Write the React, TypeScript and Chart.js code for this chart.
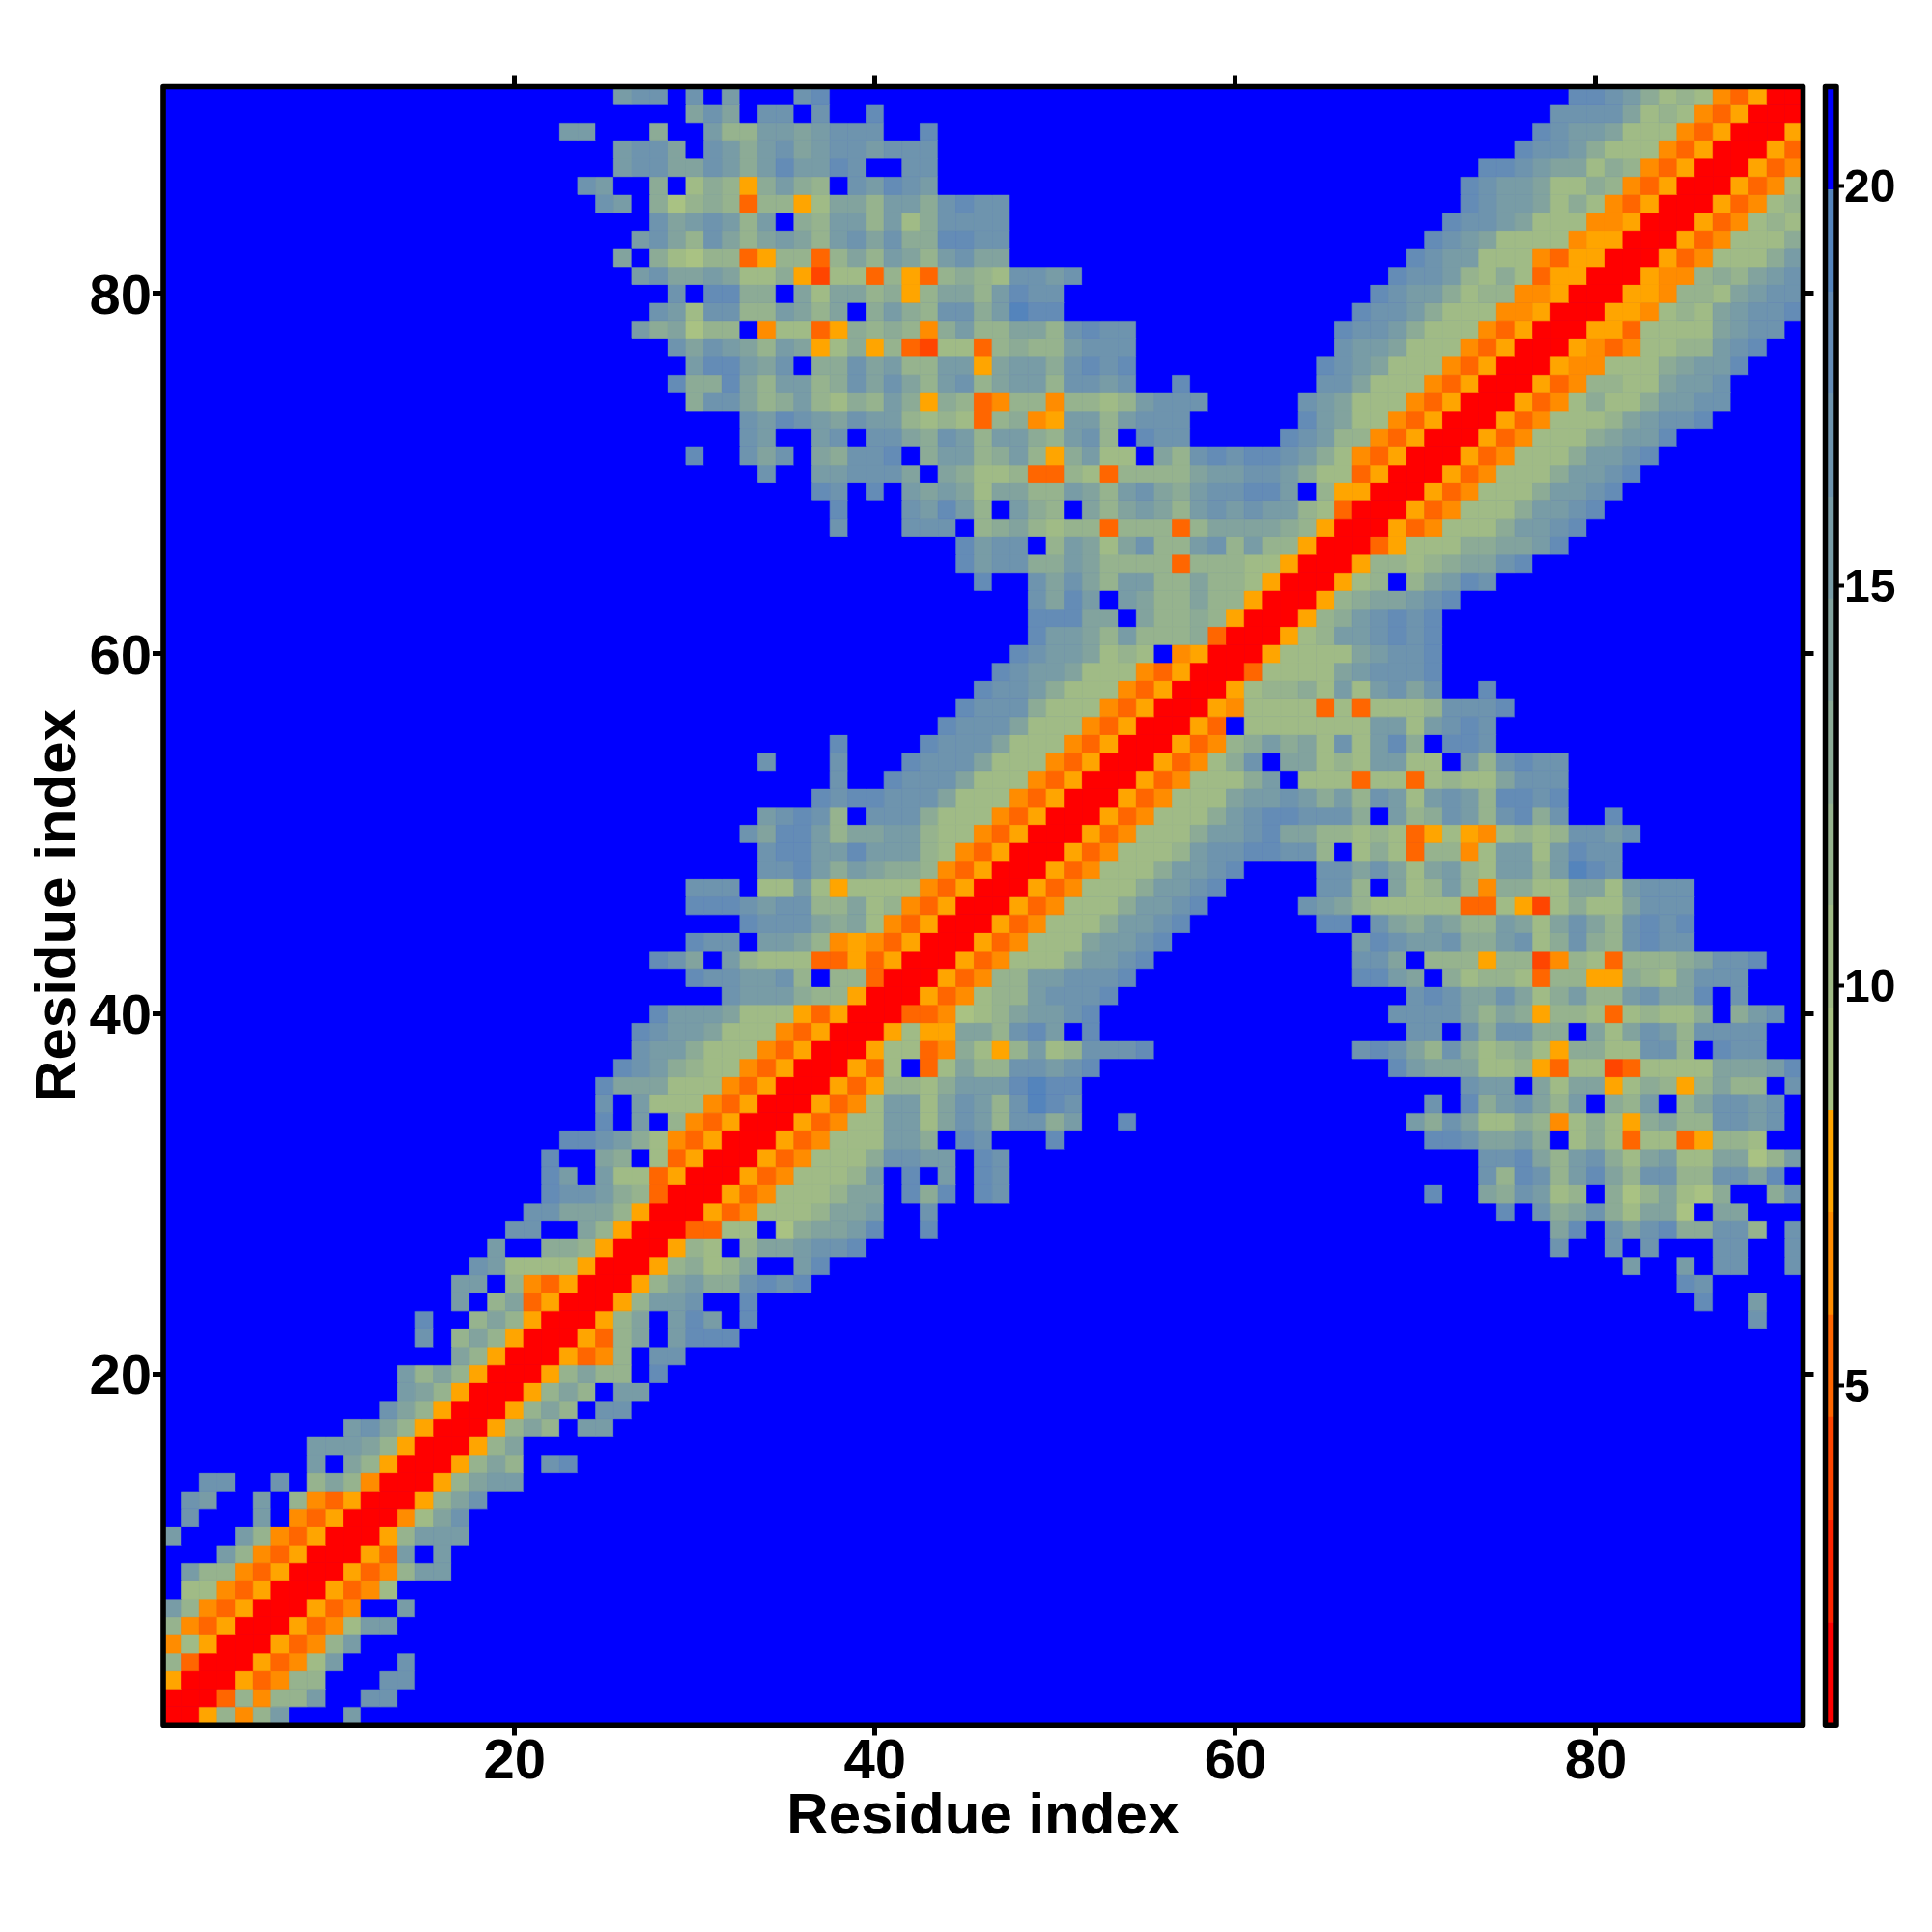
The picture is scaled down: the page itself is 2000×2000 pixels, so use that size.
import React, { useEffect, useRef } from "react";
import { Chart, registerables } from "chart.js";

Chart.register(...registerables);

const axisTitle = "Residue index";
const residueTicks = [20, 40, 60, 80];
const colorbarTicks = [5, 10, 15, 20];
const residueCount = 91;

// Band edges of the colour key (distance values)
const bandEdges = [0.755, 2.035, 3.315, 4.6, 5.88, 7.16, 8.44, 9.72, 11.0, 12.27, 13.55, 14.83, 16.1, 17.4, 18.67, 19.95, 21.24];
const bandColors = [
  "#ff0000", "#ff2400", "#ff4500", "#ff6600", "#ff8c00", "#ffa500",
  "#a9c283", "#a0bb86", "#96b38e", "#8cab96", "#82a39e", "#789ca6",
  "#6e94ae", "#648cb6", "#5484bc", "#0000ff",
];

// One entry per residue row (row 1 first). Each "start:codes" gives band codes (hex index into bandColors)
// from column "start"; cells that are not listed are band f.
const rows = [
  "1:005848b 11:b",
  "1:00038488b 12:cc",
  "1:500053488 13:cc",
  "1:830005347b 14:c",
  "1:4750005348b",
  "1:84350005347bb",
  "1:b8435000534ffb",
  "1:f774350005347",
  "1:fb884350005348bb",
  "4:b843500053bfb",
  "1:b 5:b843500058bbb",
  "2:c 6:b 8:43500047ac",
  "2:cb 6:b 8:843500058ac",
  "3:cc 7:c 9:8a8400058abb",
  "9:bfa8500058a8 22:cd",
  "9:bbba8500058a",
  "11:bca8500058a8 24:bb",
  "13:ca8500058a8fcc",
  "14:ba8500058a8fbb",
  "14:b8a8500058a88fd",
  "17:a850005348fcc",
  "15:c 17:8a85000538afbd 31:dd",
  "15:d 18:8a8500058afbd 31:bfd 89:c",
  "17:bf8a3500058bbc 31:ffd 86:d 89:b",
  "17:bbf843500058ab 31:99cdcd 85:dc",
  "18:cb77775000589 31:78affbd 82:b 85:b 87:cc 91:c",
  "19:bff998500058 31:7f8aabccd 78:c 81:cfc 87:cc 91:c",
  "20:ccffa850003 31:377f69aabd 43:d 78:adfcacd99cc8 91:c",
  "21:ccaaa85000 31:5347778aab 43:c 75:d 77:c9ac97aa6faa",
  "22:dccb98300 31:05347778aafd9dfdc 71:d 74:a9cb78f968a769ff9c",
  "22:dbfb77350 31:005347778bfdfbfdc 74:c8dc8bda8cc88ccad",
  "22:dffa9f735 31:0005347779ccbbfdc 74:ccda8bc97ab77aa68b",
  "23:ddcb9743 31:5000534777bb9fdc 50:d 71:ddcaab9f79737735887",
  "25:dfbf84 31:3500053477bb7acb8cc9b 54:d 70:b9ca7798479759a88ccbc",
  "25:cfb777 31:4350005347bb7acb8cedc 71:cfd9bca8bf98bf8accbc",
  "25:daaa77 31:74350005358879bbbdedd 73:cbbfa7aa579858a88fc",
  "26:dcb98 31:77435000537f37a88ccbcd 69:dbaaa7785377237777aaabd",
  "27:cbb9 31:777435000577349758b78cccd 67:cdca8c9789759977cc8fdcc",
  "27:dcbb 31:a7774350005755aa8cdbfd 70:ccfc9cc99fa7acb8cccc",
  "28:dbb 31:ba777535000334678abbcd 69:cccca8a95887378779f9bc",
  "31:fcbbb9885000534788bcccd 70:cdcaaca79b88bcaadfc",
  "30:d 31:ccbbc8f88300053488bbcccd 67:ddbaf9788738855987accc",
  "28:dca 31:fb8777335350005347779bbcd 67:ccaf888588248738889accd",
  "30:d 31:ccfbba845435000534777abbcd 67:bdcbbc99bc79c98cdcc",
  "33:dccca9a74350005347779bbcd 65:ddfca9ba88ba7aca8cdcd",
  "30:d 31:ddcbcc88a784350005347779bbcd 64:cba877777337527977accc",
  "30:c 31:ccf77b7577774350005347779bbcd 65:cc8fa78b849977aa7bccc",
  "34:ccdb9ba9984350005347779bbcd 65:ccaca7ab87bb8bedc",
  "34:cddbbdbbb874350005347778bccd 62:dcc8f79738847bb7bdcc",
  "33:caddb8aabb8774350005347779bbc 62:daa88787357547878ccbc",
  "34:bcdc8fccc97774350005347779bc 62:ddccc9fb89cb8cd9c 81:d",
  "37:dcddccca777435000534777ab 62:bcb9b8cb7bcb8ddcd",
  "38:c 41:dccca7774350005347779 62:bf77737737877accc",
  "34:c 38:c 42:dccca77743500053479c 62:faa787bb77fb8cdcc",
  "38:d 43:dccca77743500053489 62:b9a7c7bd9fddc",
  "44:dccca77743500053f7 62:777777bb7bcdc",
  "45:dccc9777435000547 62:7773737778cccd",
  "46:dccb977743500057 62:8897b7bcac 74:d",
  "47:dcbba7774350003 62:7777abcccd",
  "48:dcbba787f45000 62:57777abccd",
  "49:dbba8b888930 61:00578bbcdcd",
  "49:dddaafa88985 61:000589bcdcd",
  "49:cadbfba88a88 61:5000589aabcd",
  "46:d 49:caca8bb88a88 61:75000578f8abdc",
  "45:dbcc99ba88883888 61:775000588789aacd",
  "45:dbccf8ba7ac88bc8 61:b8850003577799aabd",
  "38:c 42:cccf89a8788388838aa 61:aa9850005347779bbcd",
  "38:d 42:cbdb8fb98fa8aba8bcb 61:cbb8730005347779bbcd",
  "37:dcfdfbaba7aa88ba8bca9bcc 61:ddbf8550005347779bbcd",
  "34:c 37:bbcccafa9778338738888abb 61:ccb977350005347779bbcd",
  "30:d 33:cacfa9ccdf9bb89b859b77fa8cdc 61:ddcb974350005347779bbcd",
  "33:cbffbcfcca9cb8bb98bc8fdcc 63:dcb884350005347779abbd",
  "33:cbdcbacbb878738945bb8bccc 64:dba774350005347778abccd",
  "30:9 31:cca89b8798b9598348848878bccc 64:cba77743500053479779bbcc",
  "29:d9 31:9da8bb89caca8bc8abb8ccbc 57:d 65:cca7774350005348877abbc",
  "30:b 31:ddbacf99cab88bb5abb9cdcd 65:dcba7774350005447779abbd",
  "29:ca 31:cba8ba57958327738988bccc 66:cbba77743500054347788bcd",
  "27:b9a6 31:88f47735989849b88aa8cdcc 66:dccb97774350005537777abcc",
  "28:cb7 31:cc88ba8af9b98cc9bedd 67:dccb9777445000554787abccd",
  "29:cf 31:dd99fa7aa8958aa8bdcc 68:dcbb9788445000554887abcc",
  "27:bcaa 31:ba779527738538987ccbc 69:dccb8797355000544898abc",
  "26:af976 31:88358838a8ba8bcaa 70:dcbb77743550005347779b",
  "27:bca8 31:ca8aba8bcac99ddcc 71:dcba77774550005347779",
  "28:cab 31:cb8bf98bb8b79cccc 72:dccba777445000534787",
  "25:cbf968 31:9838857aa8bb9cdcc 73:dcbba79743500053478",
  "24:cb 28:9f7 31:9859b98fcbdcb 73:dcbba77984350005347",
  "26:bccaa 31:cb9bdbbdcffcc 74:ddcbaa798435000534",
  "26:bcca 31:cb9bcabccbccc 76:dccb977743500053",
  "23:bb 28:9 31:b88bbabccc 43:d 77:dcbba7774350005",
  "30:a 31:ca 34:cc 37:c 40:d 78:cccca787435000",
  "26:bcc 30:c 32:b 36:cd 79:ddcb978743500",
];

function decodeCells() {
  const out: { x: number; y: number; v: number; band: number }[] = [];
  rows.forEach((text, r) => {
    const codes: number[] = new Array(residueCount).fill(15);
    text.split(" ").forEach((seg) => {
      const [start, chars] = seg.split(":");
      for (let i = 0; i < chars.length; i++) {
        const code = parseInt(chars[i], 16);
        const col = Number(start) - 1 + i;
        if (col < residueCount && !Number.isNaN(code)) codes[col] = code;
      }
    });
    codes.forEach((band, c) => {
      out.push({ x: c + 1, y: r + 1, v: (bandEdges[band] + bandEdges[band + 1]) / 2, band });
    });
  });
  return out;
}

const FONT = '"Liberation Sans", Arial, sans-serif';

const framePlugin = (lineWidth: number, fill?: string) => ({
  id: "frame",
  beforeDatasetsDraw(chart: any) {
    if (!fill) return;
    const { left, top, width, height } = chart.chartArea;
    chart.ctx.save();
    chart.ctx.fillStyle = fill;
    chart.ctx.fillRect(left, top, width, height);
    chart.ctx.restore();
  },
  afterDraw(chart: any) {
    const { left, top, width, height } = chart.chartArea;
    const ctx = chart.ctx;
    ctx.save();
    ctx.strokeStyle = "#000";
    ctx.lineWidth = lineWidth;
    ctx.lineJoin = "round";
    ctx.strokeRect(left, top, width, height + 0.8);
    ctx.restore();
  },
});

// Nudges an axis' tick labels downwards by a few pixels, as the reference's labels sit below their ticks.
const labelNudge = (scaleId: string, dy: number) => ({
  id: "labelNudge" + scaleId,
  beforeDraw(chart: any) {
    const scale = chart.scales[scaleId];
    scale._labelItems = null;
    scale.getLabelItems().forEach((item: any) => {
      item.options.translation[1] += dy;
    });
  },
});

export default function App() {
  const mainRef = useRef<HTMLCanvasElement>(null);
  const barRef = useRef<HTMLCanvasElement>(null);

  useEffect(() => {
    document.body.style.margin = "0";
    const cells = decodeCells();
    const sized = (key: "width" | "height", size: number) => (scale: any) => {
      scale[key] = size;
    };
    const setTicks = (values: number[]) => (scale: any) => {
      scale.ticks = values.map((value) => ({ value }));
    };
    const grid = { drawOnChartArea: false, drawTicks: true, tickLength: 11, tickWidth: 5, tickColor: "#000" };
    const tickFont = { family: FONT, size: 58, weight: "bold" as const };
    const titleFont = { family: FONT, size: 60, weight: "bold" as const };

    const main = new Chart(mainRef.current!, {
      type: "scatter",
      data: {
        datasets: [
          {
            data: cells,
            pointStyle: "rect",
            pointRadius: (ctx: any) => ctx.chart.scales.x.width / residueCount / Math.SQRT2,
            pointBackgroundColor: (ctx: any) => bandColors[ctx.raw?.band ?? 15],
            pointBorderColor: (ctx: any) => bandColors[ctx.raw?.band ?? 15],
            pointBorderWidth: 0.8,
            pointHoverRadius: 0,
          } as any,
        ],
      },
      plugins: [framePlugin(5.6, bandColors[15]), labelNudge("y", 5)],
      options: {
        responsive: false,
        animation: false,
        devicePixelRatio: 1,
        events: [],
        layout: { padding: 0 },
        plugins: { legend: { display: false }, tooltip: { enabled: false }, title: { display: false } },
        scales: {
          x: {
            type: "linear",
            position: "bottom",
            min: 0.5,
            max: 91.5,
            afterBuildTicks: setTicks(residueTicks),
            afterFit: sized("height", 214.5),
            border: { display: false },
            grid,
            ticks: { color: "#000", font: tickFont, padding: -6, maxRotation: 0, autoSkip: false },
            title: { display: true, text: axisTitle, color: "#000", font: titleFont, padding: { top: 0, bottom: 83 } },
          },
          x2: {
            type: "linear",
            position: "top",
            min: 0.5,
            max: 91.5,
            afterBuildTicks: setTicks(residueTicks),
            afterFit: sized("height", 89.5),
            border: { display: false },
            grid,
            ticks: { display: false },
          },
          y: {
            type: "linear",
            position: "left",
            min: 0.5,
            max: 91.5,
            afterBuildTicks: setTicks(residueTicks),
            afterFit: sized("width", 169),
            border: { display: false },
            grid,
            ticks: { color: "#000", font: tickFont, padding: 1, autoSkip: false },
            title: { display: true, text: axisTitle, color: "#000", font: titleFont, padding: { top: 25.5, bottom: 0 } },
          },
          y2: {
            type: "linear",
            position: "right",
            min: 0.5,
            max: 91.5,
            afterBuildTicks: setTicks(residueTicks),
            afterFit: sized("width", 133.5),
            border: { display: false },
            grid,
            ticks: { display: false },
          },
        },
      } as any,
    });

    const colorbar = new Chart(barRef.current!, {
      type: "bar",
      data: {
        labels: ["key"],
        datasets: bandColors.map((color, i) => ({
          data: [[bandEdges[i], bandEdges[i + 1]]],
          backgroundColor: color,
          borderWidth: 0,
          barPercentage: 1,
          categoryPercentage: 1,
        })) as any,
      },
      plugins: [framePlugin(5.5), labelNudge("y", 4)],
      options: {
        responsive: false,
        animation: false,
        devicePixelRatio: 1,
        events: [],
        layout: { padding: { left: 1889.5, top: 89.5, bottom: 214.5, right: 0 } },
        plugins: { legend: { display: false }, tooltip: { enabled: false } },
        scales: {
          x: {
            stacked: true,
            border: { display: false },
            grid: { display: false },
            ticks: { display: false },
            afterFit: sized("height", 0),
          },
          y: {
            type: "linear",
            position: "right",
            min: bandEdges[0],
            max: bandEdges[bandEdges.length - 1],
            afterBuildTicks: setTicks(colorbarTicks),
            afterFit: sized("width", 99),
            border: { display: false },
            grid: { drawOnChartArea: false, drawTicks: true, tickLength: 8, tickWidth: 4, tickColor: "#000" },
            ticks: { color: "#000", font: { family: FONT, size: 48, weight: "bold" }, padding: 0, autoSkip: false },
          },
        },
      } as any,
    });

    return () => {
      main.destroy();
      colorbar.destroy();
    };
  }, []);

  const canvasStyle: React.CSSProperties = { position: "absolute", left: 0, top: 0, display: "block" };
  return (
    <div style={{ position: "relative", width: 2000, height: 2000, background: "#fff" }}>
      <canvas ref={mainRef} width={2000} height={2000} style={canvasStyle} />
      <canvas ref={barRef} width={2000} height={2000} style={canvasStyle} />
    </div>
  );
}
